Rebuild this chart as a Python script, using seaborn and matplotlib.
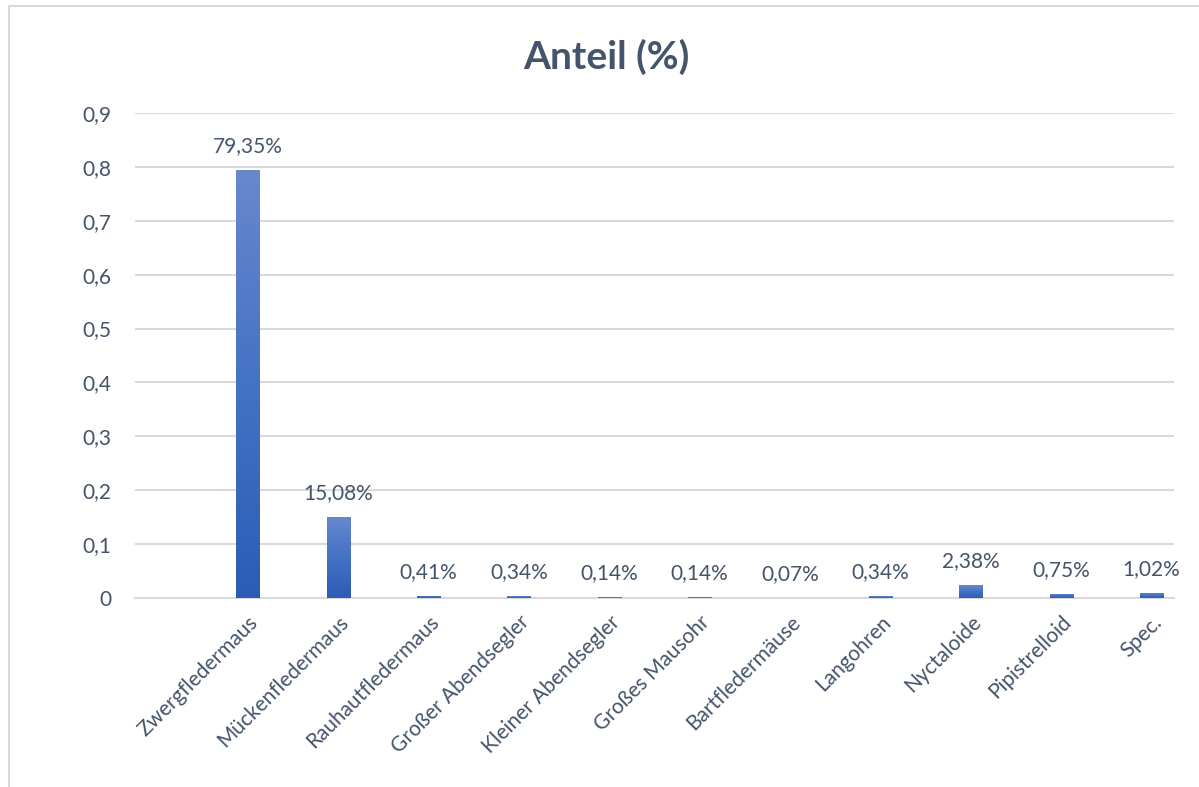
import numpy as np
import pandas as pd
import matplotlib
matplotlib.use("Agg")
import matplotlib.pyplot as plt
from matplotlib.colors import LinearSegmentedColormap
from matplotlib.patches import Rectangle
from matplotlib.ticker import FixedLocator, FuncFormatter
import seaborn as sns

# Artenanteile der erfassten Fledermausrufe
arten = ["Zwergfledermaus", "Mückenfledermaus", "Rauhautfledermaus",
         "Großer Abendsegler", "Kleiner Abendsegler", "Großes Mausohr",
         "Bartfledermäuse", "Langohren", "Nyctaloide", "Pipistrelloid", "Spec."]
anteil = [0.7935, 0.1508, 0.0041, 0.0034, 0.0014, 0.0014,
          0.0007, 0.0034, 0.0238, 0.0075, 0.0102]
y_ticks = [0.0, 0.1, 0.2, 0.3, 0.4, 0.5, 0.6, 0.7, 0.8, 0.9]
titel = "Anteil (%)"

df = pd.DataFrame({"Art": arten, "Anteil": anteil})

TEXT = "#44546A"
GRID = "#D9D9D9"

sns.set_theme(style="white")
plt.rcParams["font.family"] = ["Lato", "DejaVu Sans"]

W, H = 1199, 787
fig = plt.figure(figsize=(W / 100, H / 100), dpi=100)
fig.patch.set_facecolor("white")

# Rahmen des Diagrammbereichs
fig.add_artist(Rectangle((9 / W, -0.01), 1.05, (H - 6) / H + 0.01,
                         transform=fig.transFigure, fill=False,
                         edgecolor=GRID, linewidth=1.5))

x0, x1 = 135, 1174
y_top, y_bot = 113, 598
ax = fig.add_axes([x0 / W, 1 - y_bot / H, (x1 - x0) / W, (y_bot - y_top) / H])

sns.barplot(data=df, x="Art", y="Anteil", ax=ax, width=0.255,
            color="#4472C4", saturation=1, edgecolor="none", zorder=3)

# Farbverlauf in den Säulen
cmap = LinearSegmentedColormap.from_list("bar", ["#2C5CB6", "#4472C4", "#6888CD"])
grad = np.linspace(0, 1, 256).reshape(-1, 1)
for p in ax.patches:
    bx, by = p.get_x(), p.get_y()
    bw, bh = p.get_width(), p.get_height()
    if bh <= 0:
        continue
    im = ax.imshow(grad, cmap=cmap, origin="lower", aspect="auto",
                   extent=[bx, bx + bw, by, by + bh], zorder=4,
                   interpolation="bilinear")
    im.set_clip_path(p)
ax.set_xlim(-1.25, 10.25)
ax.set_ylim(0, 0.9)

# Datenbeschriftungen
for i, v in enumerate(anteil):
    ax.annotate(f"{v * 100:.2f}%".replace(".", ","), (i, v),
                xytext=(0, 10), textcoords="offset points",
                ha="center", va="bottom", fontsize=15, color=TEXT,
                annotation_clip=False)

# Achsen und Gitter
for s in ["top", "right", "left"]:
    ax.spines[s].set_visible(False)
ax.spines["bottom"].set_color(GRID)
ax.spines["bottom"].set_linewidth(1.5)
ax.yaxis.set_major_locator(FixedLocator(y_ticks))
ax.yaxis.set_major_formatter(FuncFormatter(
    lambda v, _: "0" if abs(v) < 1e-9 else f"{v:.1f}".replace(".", ",")))
ax.grid(axis="y", color=GRID, linewidth=1.5, zorder=0)
ax.set_axisbelow(True)
ax.tick_params(axis="y", length=0, pad=17, labelsize=15, labelcolor=TEXT)
ax.tick_params(axis="x", length=0, pad=10, labelsize=15, labelcolor=TEXT)
ax.set_xticks(range(len(arten)))
ax.set_xticklabels(arten, rotation=45, ha="right", rotation_mode="anchor")
ax.set_xlabel("")
ax.set_ylabel("")

fig.text(606 / W, 1 - 57 / H, titel, ha="center", va="center",
         fontsize=28, fontweight="bold", color=TEXT)

fig.savefig("out.png", dpi=100)
